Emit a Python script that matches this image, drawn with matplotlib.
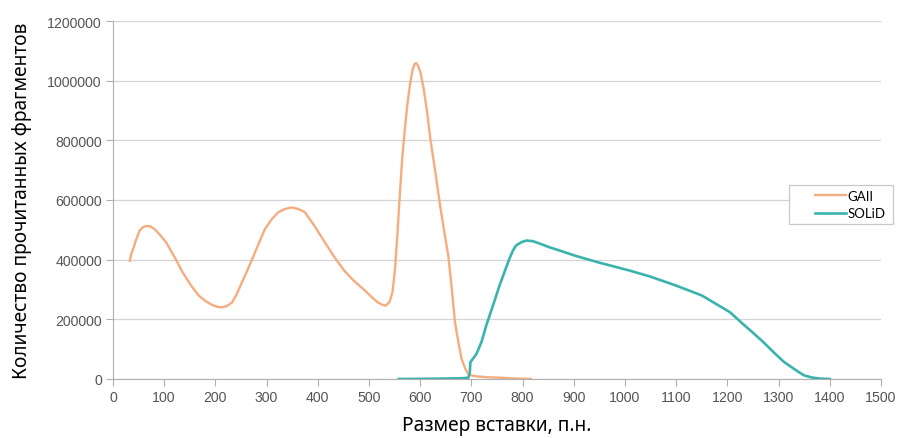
import matplotlib
matplotlib.use("Agg")
import matplotlib.pyplot as plt
from matplotlib.patches import Rectangle

gaii_x = [33, 36, 40, 45, 52, 58, 65, 72, 81, 92, 104, 120, 136, 152, 168, 182, 194, 204, 213,
          223, 233, 242, 252, 262, 272, 285, 297, 310, 323, 336, 349, 362, 375, 394, 414, 432,
          452, 470, 490, 505, 517, 526, 533, 540, 546, 551, 555, 560, 565, 570, 575, 580, 585,
          589, 592, 596, 601, 607, 614, 620, 630, 639, 647, 655, 662, 668, 675, 681, 688, 694,
          700, 710, 730, 760, 790, 816]
gaii_y = [396000, 420000, 438000, 465000, 497000, 508000, 513000, 512000, 503000, 483000,
          458000, 410000, 358000, 315000, 279000, 260000, 248000, 242000, 240000, 245000,
          257000, 285000, 324000, 362000, 402000, 455000, 503000, 535000, 559000, 570000,
          575000, 570000, 559000, 512000, 458000, 410000, 363000, 330000, 300000, 275000,
          257000, 249000, 246000, 258000, 291000, 370000, 469000, 610000, 740000, 835000,
          920000, 985000, 1035000, 1055000, 1059000, 1050000, 1025000, 972000, 890000,
          804000, 690000, 581000, 495000, 413000, 300000, 191000, 120000, 67000, 35000,
          17000, 12000, 9000, 6000, 4000, 1500, 0]

solid_x = [558, 600, 650, 680, 694, 697, 698, 704, 710, 720, 729, 742, 755, 765, 774, 781,
           787, 797, 807, 820, 835, 850, 870, 903, 950, 1010, 1050, 1100, 1150, 1205, 1230,
           1250, 1270, 1290, 1310, 1325, 1336, 1350, 1365, 1380, 1400]
solid_y = [0, 500, 1500, 2500, 4000, 20000, 56000, 70000, 84000, 125000, 179000, 245000,
           313000, 360000, 402000, 430000, 447000, 458000, 464000, 462000, 453000, 443000,
           432000, 413000, 390000, 363000, 343000, 313000, 280000, 224000, 185000, 155000,
           124000, 90000, 58000, 40000, 27000, 12000, 5000, 1500, 0]

x_ticks = list(range(0, 1501, 100))
y_ticks = list(range(0, 1200001, 200000))

W, H = 906, 439
fig = plt.figure(figsize=(W / 100, H / 100), dpi=100)
ax = fig.add_axes([112.9 / W, 1 - 380 / H, (881 - 112.9) / W, (380 - 22) / H])

l1, = ax.plot(gaii_x, gaii_y, color="#F5AD80", lw=1.7, label="GAII")
l2, = ax.plot(solid_x, solid_y, color="#3AB3AE", lw=1.9, label="SOLiD")

ax.set_xlim(0, 1500)
ax.set_ylim(0, 1200000)
ax.set_xticks(x_ticks)
ax.set_yticks(y_ticks)
ax.set_xticklabels([str(v) for v in x_ticks])
ax.set_yticklabels([str(v) for v in y_ticks])
ax.grid(axis="y", color="#D4D4D4", lw=0.9)
ax.set_axisbelow(True)
for s in ["top", "right"]:
    ax.spines[s].set_visible(False)
for s in ["left", "bottom"]:
    ax.spines[s].set_color("#B0B0B0")
ax.tick_params(axis="both", colors="#B0B0B0", length=5, labelcolor="#555555",
               labelsize=10.2)
for lab in ax.get_xticklabels() + ax.get_yticklabels():
    lab.set_family("Liberation Sans")
ax.tick_params(axis="x", pad=3)
ax.tick_params(axis="y", pad=3)

ax.set_xlabel("Размер вставки, п.н.", fontsize=13.8, family="Noto Sans", labelpad=8)
ax.set_ylabel("Количество прочитанных фрагментов", fontsize=13.8, family="Noto Sans",
              labelpad=11)

# legend frame
fig.patches.append(Rectangle((789 / W, 1 - 225 / H), (893 - 789) / W, (225 - 186) / H,
                             transform=fig.transFigure, facecolor="white",
                             edgecolor="#C8C8C8", lw=0.9, zorder=5))
leg = fig.legend(handles=[l1, l2], labels=["GAII", "SOLiD"], loc="center left",
                 bbox_to_anchor=(808 / W, 1 - 205.5 / H),
                 bbox_transform=fig.transFigure, frameon=False,
                 handlelength=2.4, handletextpad=0.1, borderpad=0.0, labelspacing=0.45,
                 prop={"family": "Lato", "size": 9.5})
leg.set_zorder(10)

fig.savefig("out.png", dpi=100)
